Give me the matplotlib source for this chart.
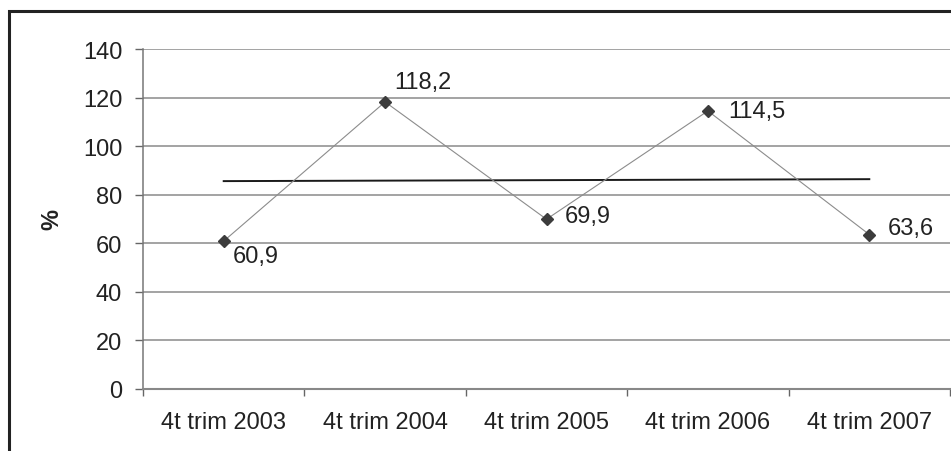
import matplotlib.pyplot as plt
import numpy as np
from matplotlib.patches import Rectangle

# Data
categories = ["4t trim 2003", "4t trim 2004", "4t trim 2005", "4t trim 2006", "4t trim 2007"]
values = [60.9, 118.2, 69.9, 114.5, 63.6]
value_labels = ["60,9", "118,2", "69,9", "114,5", "63,6"]
trend_values = [85.6, 86.4]  # tendencia lineal (inicio, fin)

plt.rcParams['font.family'] = ['Liberation Sans', 'DejaVu Sans']
fs = 17

fig = plt.figure(figsize=(9.51, 4.52), dpi=100)
ax = fig.add_axes([143 / 951, 1 - 390 / 452, 807 / 951, 340 / 452])

x = np.arange(len(categories))

# Gridlines
ax.set_axisbelow(True)
ax.yaxis.grid(True, color='#8a8a8a', linewidth=1.1)

# Serie
ax.plot(x, values, color='#8c8c8c', linewidth=0.8, marker='D', markersize=6.5,
        markerfacecolor='#3c3c3c', markeredgecolor='#3c3c3c', zorder=3)

# Línea de tendencia
ax.plot([x[0], x[-1]], trend_values, color='#1a1a1a', linewidth=1.4, zorder=2)

# Etiquetas de valores
offsets = [(6.5, -11), (6.5, 14), (13, 2), (14.5, 0), (13, 5)]
for xi, v, lab, off in zip(x, values, value_labels, offsets):
    ax.annotate(lab, (xi, v), xytext=off, textcoords='offset points',
                ha='left', va='center', fontsize=fs, color='#222222')

ax.set_xlim(-0.5, len(categories) - 0.5)
ax.set_ylim(0, 140)
ax.set_yticks(range(0, 141, 20))

ax.set_xticks(np.arange(-0.5, len(categories), 1.0))
ax.set_xticklabels([])
ax.set_xticks(x, minor=True)
ax.set_xticklabels(categories, minor=True)
ax.tick_params(axis='x', which='major', length=5, color='#666666', width=1)
ax.tick_params(axis='x', which='minor', length=0, pad=16, labelsize=fs, labelcolor='#222222')
ax.tick_params(axis='y', length=6, color='#666666', width=1, pad=9, labelsize=fs, labelcolor='#222222')

for s in ['top', 'right']:
    ax.spines[s].set_visible(False)
ax.spines['left'].set_color('#777777')
ax.spines['bottom'].set_color('#888888')
ax.spines['left'].set_linewidth(1.1)
ax.spines['bottom'].set_linewidth(1.5)

ax.set_ylabel("%", fontsize=fs, fontweight='bold', color='#222222', labelpad=14)

# Marco de la figura
fig.patches.append(Rectangle((9 / 951, -0.05), 1.0, 1 - 12 / 452 + 0.05,
                             transform=fig.transFigure, fill=False,
                             edgecolor='#222222', linewidth=2.2))

fig.savefig("out.png", dpi=100)
